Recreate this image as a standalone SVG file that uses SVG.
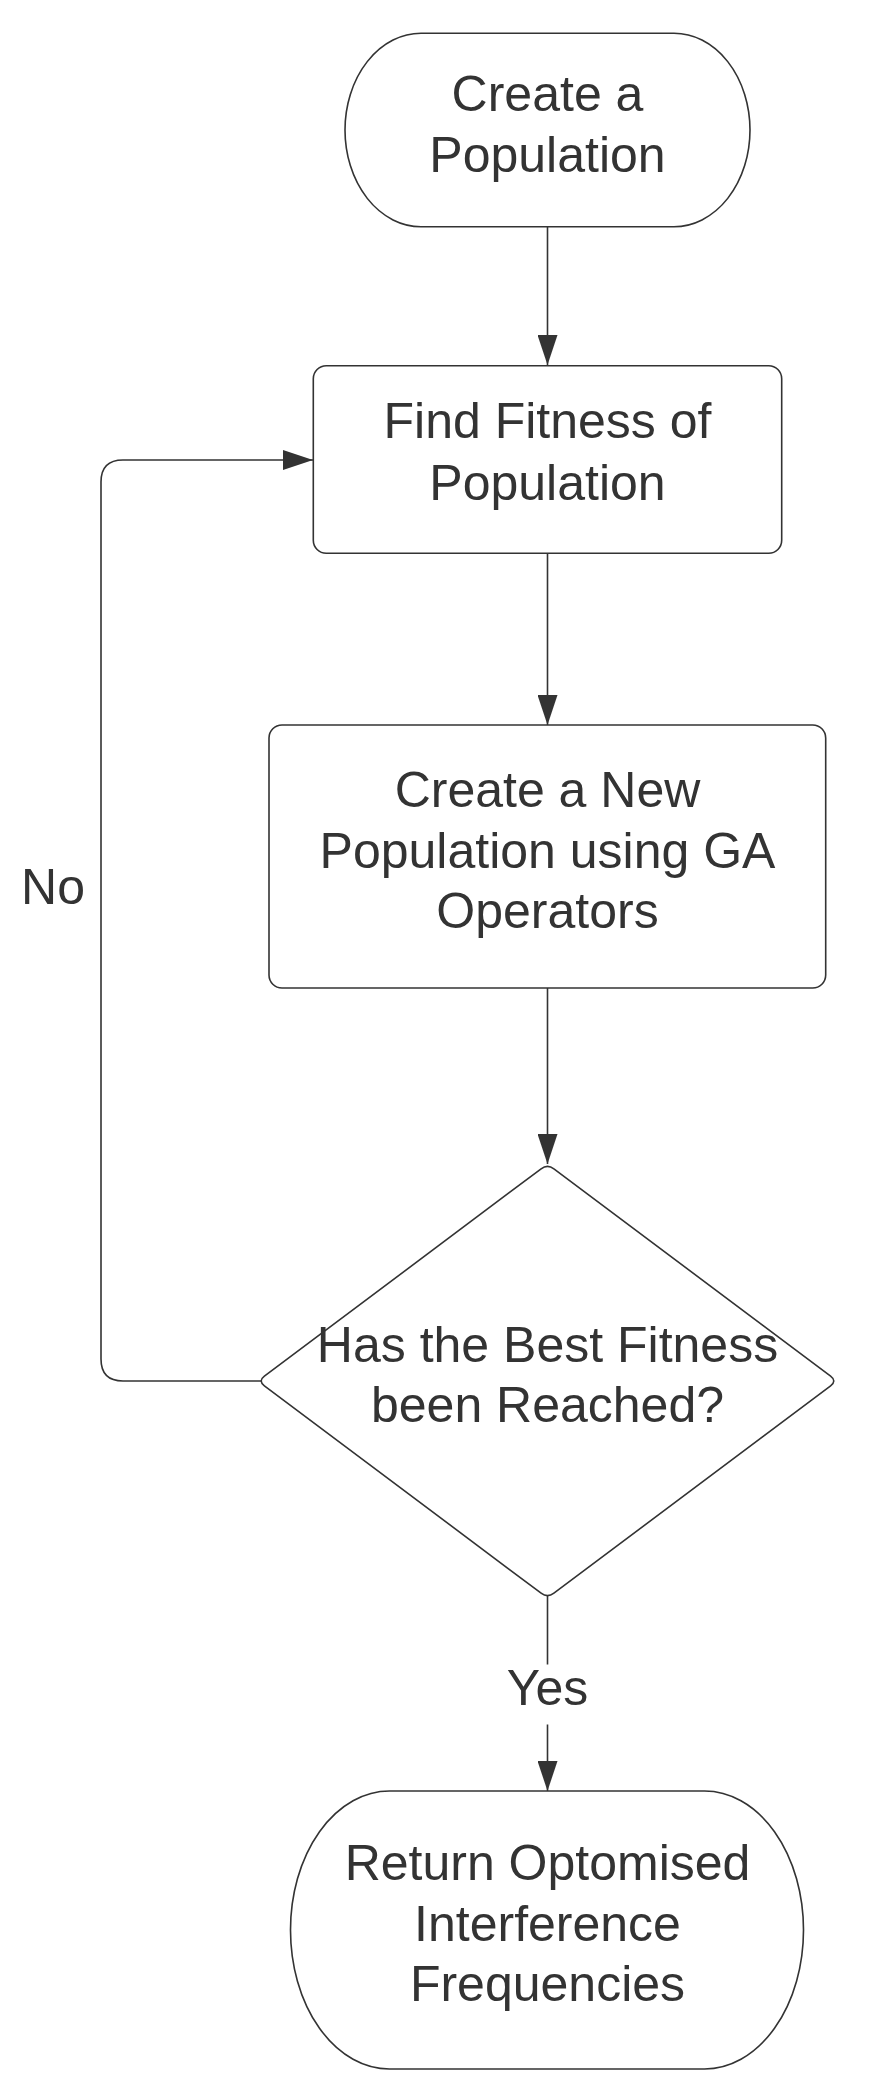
<svg xmlns="http://www.w3.org/2000/svg" width="879" height="2100" viewBox="0 0 879 2100">
  <style>
    .shape { fill: #ffffff; stroke: #333333; stroke-width: 1.6; }
    .conn { fill: none; stroke: #333333; stroke-width: 1.6; }
    .lbl { font-family: "Liberation Sans", Arial, sans-serif; font-size: 50px; fill: #333333; text-anchor: middle; }
  </style>
  <defs>
    <marker id="arrow" markerUnits="userSpaceOnUse" viewBox="0 0 30 20" refX="30" refY="10" markerWidth="30" markerHeight="20" orient="auto">
      <path d="M0,0 L30,10 L0,20 Z" fill="#333333"/>
    </marker>
  </defs>
  <rect width="879" height="2100" fill="#ffffff"/>

  <g id="connectors">
    <path class="conn" d="M547.5,227 V365" marker-end="url(#arrow)"/>
    <path class="conn" d="M547.5,553.5 V725" marker-end="url(#arrow)"/>
    <path class="conn" d="M547.5,988 V1164" marker-end="url(#arrow)"/>
    <path class="conn" d="M265,1381 H123 Q101,1381 101,1359 V482 Q101,460 123,460 H313" marker-end="url(#arrow)"/>
    <path class="conn" d="M547.5,1596 V1664.5"/>
    <path class="conn" d="M547.5,1724.5 V1791" marker-end="url(#arrow)"/>
    <text class="lbl" x="53" y="904">No</text>
    <text class="lbl" x="547.5" y="1704.5">Yes</text>
  </g>

  <g id="start">
    <rect class="shape" x="345" y="33.3" width="405" height="193.4" rx="76" ry="96.7"/>
    <text class="lbl" x="547.5" y="110.7">Create a</text>
    <text class="lbl" x="547.5" y="171.7">Population</text>
  </g>

  <g id="fitness">
    <rect class="shape" x="313.3" y="365.7" width="468.4" height="187.6" rx="13" ry="13"/>
    <text class="lbl" x="547.5" y="438.3">Find Fitness of</text>
    <text class="lbl" x="547.5" y="499.5">Population</text>
  </g>

  <g id="newpop">
    <rect class="shape" x="269" y="725" width="556.7" height="263" rx="13" ry="13"/>
    <text class="lbl" x="547.5" y="807">Create a New</text>
    <text class="lbl" x="547.5" y="867.5">Population using GA</text>
    <text class="lbl" x="547.5" y="928">Operators</text>
  </g>

  <g id="decision">
    <path class="shape" d="M541.1,1168.8 Q547.5,1164 553.9,1168.8 L830.6,1376.2 Q837,1381 830.6,1385.8 L553.9,1593.2 Q547.5,1598 541.1,1593.2 L264.4,1385.8 Q258,1381 264.4,1376.2 Z"/>
    <text class="lbl" x="547.5" y="1361.7">Has the Best Fitness</text>
    <text class="lbl" x="547.5" y="1421.7">been Reached?</text>
  </g>

  <g id="end">
    <rect class="shape" x="290.5" y="1791" width="513" height="278" rx="99" ry="139"/>
    <text class="lbl" x="547.5" y="1880">Return Optomised</text>
    <text class="lbl" x="547.5" y="1941">Interference</text>
    <text class="lbl" x="547.5" y="2001">Frequencies</text>
  </g>
</svg>
